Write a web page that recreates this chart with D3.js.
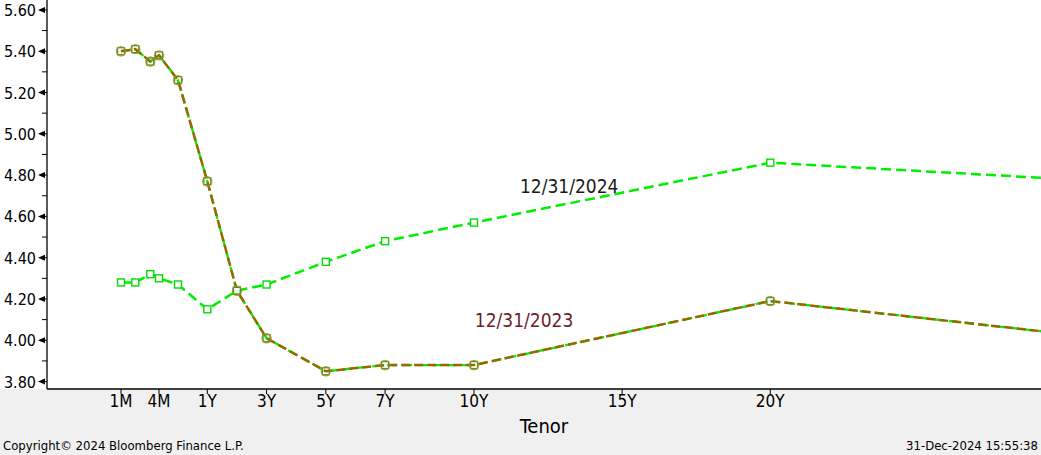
<!DOCTYPE html>
<html>
<head>
<meta charset="utf-8">
<script src="https://cdn.jsdelivr.net/npm/d3@7"></script>
<style>
  html, body { margin: 0; padding: 0; background: #f0f0f0; }
  svg { display: block; }
  text { font-family: "DejaVu Sans Condensed", "DejaVu Sans", sans-serif; }
</style>
</head>
<body>
<svg id="chart" width="1041" height="455"></svg>
<script>
// ---- data ----
const tenors = ["1M","2M","3M","4M","6M","1Y","2Y","3Y","5Y","7Y","10Y","20Y","30Y"];
const tenorYears = [1/12, 2/12, 3/12, 4/12, 0.5, 1, 2, 3, 5, 7, 10, 20, 30];
const yields2024 = [4.28, 4.28, 4.32, 4.30, 4.27, 4.15, 4.24, 4.27, 4.38, 4.48, 4.57, 4.86, 4.78];
const yields2023 = [5.40, 5.41, 5.35, 5.38, 5.26, 4.77, 4.24, 4.01, 3.85, 3.88, 3.88, 4.19, 4.03];
const xTickLabels = ["1M","4M","1Y","3Y","5Y","7Y","10Y","15Y","20Y"];
const xTickYears = [1/12, 4/12, 1, 3, 5, 7, 10, 15, 20];
const yTickValues = [3.80, 4.00, 4.20, 4.40, 4.60, 4.80, 5.00, 5.20, 5.40, 5.60];
const yMinorValues = [3.90, 4.10, 4.30, 4.50, 4.70, 4.90, 5.10, 5.30, 5.50];
const seriesNames = ["12/31/2024", "12/31/2023"];
const labelYears = [11.55, 10.03];
const labelValues = [4.713, 4.064];

// ---- layout ----
const W = 1041, H = 455;
const plot = { left: 47, right: 1041, top: 0, bottom: 389 };

const svg = d3.select("#chart");

// backgrounds
svg.append("rect").attr("x", 0).attr("y", 0).attr("width", W).attr("height", H).attr("fill", "#f0f0f0");
svg.append("rect").attr("x", 0).attr("y", 0).attr("width", W).attr("height", plot.bottom).attr("fill", "#ffffff");

// scales: short end of the tenor axis is stretched, linear in years from 1Y
const pxPerYear = 29.63;
const x1Y = 207.3;
const x = d3.scaleLinear()
  .domain([1/12, 2/12, 3/12, 4/12, 0.5, 1, 30])
  .range([121, 135.3, 150.3, 159, 178, x1Y, x1Y + 29 * pxPerYear]);
const y = d3.scaleLinear().domain([3.764, 5.648]).range([plot.bottom, plot.top]);

// clip
svg.append("defs").append("clipPath").attr("id", "clip")
  .append("rect").attr("x", plot.left).attr("y", plot.top)
  .attr("width", plot.right - plot.left).attr("height", plot.bottom - plot.top);

const g = svg.append("g").attr("clip-path", "url(#clip)");

const line = d3.line().x(d => x(d[0])).y(d => y(d[1]));
const pts2024 = tenorYears.map((t, i) => [t, yields2024[i]]);
const pts2023 = tenorYears.map((t, i) => [t, yields2023[i]]);

const green = "#00ee00";
const brown = "#9a6600";

// 2024 line
g.append("path").datum(pts2024).attr("d", line)
  .attr("fill", "none").attr("stroke", green).attr("stroke-width", 2.5)
  .attr("stroke-dasharray", "10,5");

// 2023 line: green underlay + brown overlay
g.append("path").datum(pts2023).attr("d", line)
  .attr("fill", "none").attr("stroke", green).attr("stroke-width", 2.3)
  .attr("stroke-dasharray", "10,5");
g.append("path").datum(pts2023).attr("d", line)
  .attr("fill", "none").attr("stroke", brown).attr("stroke-width", 2.5)
  .attr("stroke-dasharray", "9,4");

// markers 2024
g.selectAll(".m24").data(pts2024).enter().append("rect")
  .attr("x", d => x(d[0]) - 3.5).attr("y", d => y(d[1]) - 3.5)
  .attr("width", 7).attr("height", 7)
  .attr("fill", "#ffffff").attr("stroke", "#00dd00").attr("stroke-width", 1.4);

// markers 2023
g.selectAll(".m23s").data(pts2023).enter().append("rect")
  .attr("x", d => x(d[0]) - 3.5).attr("y", d => y(d[1]) - 3.5)
  .attr("width", 7).attr("height", 7)
  .attr("fill", "none").attr("stroke", "#3f9a00").attr("stroke-width", 1.3);
g.selectAll(".m23c").data(pts2023).enter().append("circle")
  .attr("cx", d => x(d[0])).attr("cy", d => y(d[1])).attr("r", 4.5)
  .attr("fill", "none").attr("stroke", "#a48a3c").attr("stroke-width", 1.4).attr("opacity", 0.85);

// series labels
const labelColors = ["#1a1a1a", "#6b1d2c"];
svg.selectAll(".slabel").data(seriesNames).enter().append("text")
  .attr("x", (d, i) => x(labelYears[i])).attr("y", (d, i) => y(labelValues[i]))
  .attr("font-size", 19).attr("fill", (d, i) => labelColors[i])
  .text(d => d);

// axes lines
svg.append("line").attr("x1", plot.left).attr("x2", plot.left).attr("y1", 0).attr("y2", plot.bottom)
  .attr("stroke", "#000").attr("stroke-width", 1.3);
svg.append("line").attr("x1", plot.left).attr("x2", plot.right).attr("y1", plot.bottom).attr("y2", plot.bottom)
  .attr("stroke", "#000").attr("stroke-width", 1.3);

// y ticks
const yAxisG = svg.append("g");
yAxisG.selectAll(".ymaj").data(yTickValues).enter().append("path")
  .attr("d", d => `M${plot.left - 9},${y(d)} L${plot.left - 2},${y(d) - 3} L${plot.left - 2},${y(d) + 3} Z`)
  .attr("fill", "#000");
yAxisG.selectAll(".ymajl").data(yTickValues).enter().append("line")
  .attr("x1", plot.left - 3).attr("x2", plot.left).attr("y1", d => y(d)).attr("y2", d => y(d))
  .attr("stroke", "#000").attr("stroke-width", 1);
yAxisG.selectAll(".ymin").data(yMinorValues).enter().append("line")
  .attr("x1", plot.left - 5).attr("x2", plot.left).attr("y1", d => y(d)).attr("y2", d => y(d))
  .attr("stroke", "#000").attr("stroke-width", 1);
yAxisG.selectAll(".ylab").data(yTickValues).enter().append("text")
  .attr("x", 36).attr("y", d => y(d) + 6)
  .attr("text-anchor", "end").attr("font-size", 16).attr("fill", "#000")
  .text(d => d.toFixed(2));

// x ticks
const xAxisG = svg.append("g");
xAxisG.selectAll(".xt").data(xTickYears).enter().append("line")
  .attr("x1", d => x(d)).attr("x2", d => x(d)).attr("y1", plot.bottom).attr("y2", plot.bottom + 5)
  .attr("stroke", "#000").attr("stroke-width", 1);
xAxisG.selectAll(".xl").data(xTickLabels).enter().append("text")
  .attr("x", (d, i) => x(xTickYears[i])).attr("y", 407)
  .attr("text-anchor", "middle").attr("font-size", 17).attr("fill", "#000")
  .text(d => d);

// axis title
svg.append("text").attr("x", 544).attr("y", 433).attr("text-anchor", "middle")
  .attr("font-size", 20).attr("fill", "#000").text("Tenor");

// footer
svg.append("text").attr("x", 3).attr("y", 450).attr("font-size", 13).attr("fill", "#000")
  .text("Copyright© 2024 Bloomberg Finance L.P.");
svg.append("text").attr("x", 1038).attr("y", 450).attr("text-anchor", "end").attr("font-size", 13).attr("fill", "#000")
  .text("31-Dec-2024 15:55:38");
</script>
</body>
</html>
